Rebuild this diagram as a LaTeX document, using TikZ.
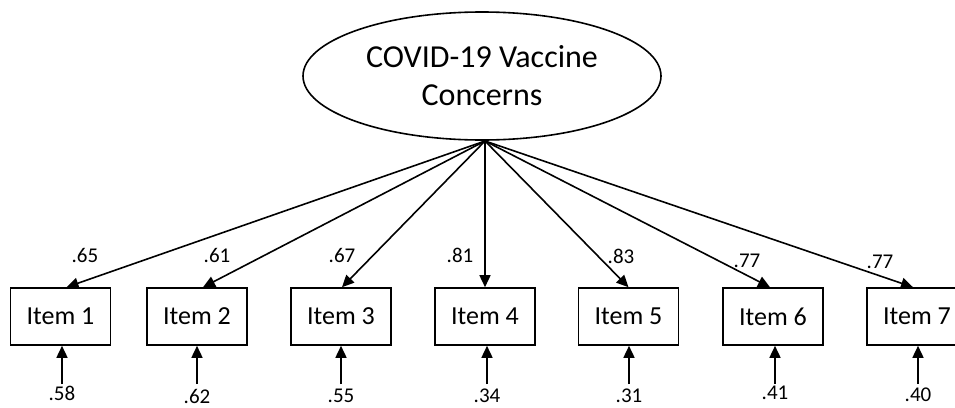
\documentclass[tikz,border=0pt]{standalone}
\usepackage{fontspec}
\setmainfont{Carlito}
\usetikzlibrary{arrows.meta,shapes.geometric}
\begin{document}
\begin{tikzpicture}[x=1pt,y=-1pt,
  lat/.style={draw,line width=1.6pt,ellipse,minimum width=358pt,minimum height=128pt,inner sep=0pt,align=center,font=\fontsize{32}{38}\selectfont},
  item/.style={draw,line width=1.6pt,minimum width=100pt,minimum height=57pt,inner sep=0pt,font=\fontsize{26}{28}\selectfont},
  lab/.style={inner sep=1pt,font=\fontsize{21}{22}\selectfont},
  arr/.style={line width=1.6pt,-{Triangle[length=12pt,width=11pt]}}]
\useasboundingbox (0,0) rectangle (955,407);
\clip (0,0) rectangle (955,407);
\node[lat] (E) at (482,76) {COVID-19 Vaccine\\Concerns};
\foreach \i/\x in {1/60.5,2/197,3/341,4/485,5/628.5,6/773,7/917}{
  \node[item] (I\i) at (\x,316.5) {Item \i};
}
\coordinate (S) at (485,141);
\draw[arr] (S) -- ([xshift=6pt]I1.north);
\draw[arr] (S) -- ([xshift=6pt]I2.north);
\draw[arr] (S) -- ([xshift=1pt]I3.north);
\draw[arr] (S) -- (I4.north);
\draw[arr] (S) -- (I5.north);
\draw[arr] (S) -- ([xshift=-3pt]I6.north);
\draw[arr] (S) -- ([xshift=-4pt]I7.north);
\node[lab] (L1) at (85,255) {.65};
\node[lab] (L2) at (217,255) {.61};
\node[lab] (L3) at (342,255) {.67};
\node[lab] (L4) at (460,255) {.81};
\node[lab] (L5) at (621,256) {.83};
\node[lab] (L6) at (747,261) {.77};
\node[lab] (L7) at (880,262) {.77};
\foreach \i/\x/\y/\t in {1/62/393/.58,2/197/396/.62,3/341/396/.55,4/487/396/.34,5/629/396/.31,6/775/393/.41,7/918/395/.40}{
  \node[lab] (R\i) at (\x,\y) {\t};
  \coordinate (B\i) at (\x,384);
  \draw[arr] (B\i) -- (B\i |- I\i.south);
}
\end{tikzpicture}
\end{document}
